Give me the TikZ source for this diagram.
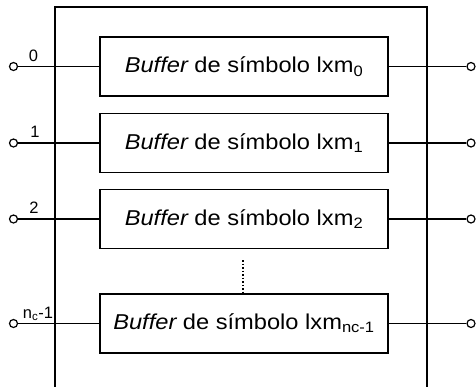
\documentclass[tikz,border=0pt]{standalone}
\usepackage{fontspec}
\setmainfont{Liberation Sans}
\newfontfamily\widesans[FakeStretch=1.1]{Liberation Sans}
\begin{document}
\begin{tikzpicture}[x=1pt,y=-1pt,
  buf/.style={draw, line width=1.2pt, minimum width=288pt, minimum height=59pt, inner sep=0pt, font=\widesans\fontsize{21.5}{24}\selectfont},
  wire/.style={line width=1.1pt},
  term/.style={circle, draw, line width=1.2pt, minimum size=8pt, inner sep=0pt},
  lab/.style={font=\fontsize{16.5}{18}\selectfont, inner sep=0pt, anchor=south}]
\useasboundingbox (0,0) rectangle (476,386);
% outer frame
\coordinate (fbl) at (55,388);
\coordinate (ftl) at (55,7);
\coordinate (ftr) at (427,7);
\coordinate (fbr) at (427,388);
\draw[wire] (fbl) -- (ftl) -- (ftr) -- (fbr);
% buffers
\node[buf] (b0) at (244,66.5) {{\itshape Buffer} de símbolo lxm\textsubscript{0}};
\node[buf] (b1) at (244,143) {{\itshape Buffer} de símbolo lxm\textsubscript{1}};
\node[buf] (b2) at (244,219) {{\itshape Buffer} de símbolo lxm\textsubscript{2}};
\node[buf] (b3) at (244,323.5) {{\itshape Buffer} de símbolo lxm\textsubscript{nc-1}};
% terminals
\foreach \i/\y in {0/66.5,1/143,2/219,3/323.5}{
  \node[term] (l\i) at (13.5,\y) {};
  \node[term] (r\i) at (471,\y) {};
  \draw[wire] (l\i) -- (b\i.west);
  \draw[wire] (b\i.east) -- (r\i);
}
% labels
\node[lab] (t0) at (33.5,62) {0};
\node[lab] (t1) at (35,138) {1};
\node[lab] (t2) at (34,214) {2};
\node[lab] (t3) at (38,321) {n\textsubscript{c}-1};
% dotted continuation
\coordinate (d1) at (243,260);
\coordinate (d2) at (243,292);
\draw[dotted, line width=1.5pt] (d1) -- (d2);
\end{tikzpicture}
\end{document}
